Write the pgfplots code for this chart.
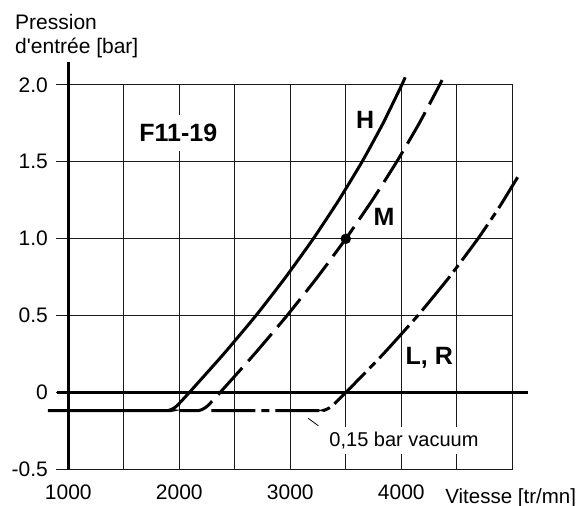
\documentclass[border=0pt]{standalone}
\usepackage{fontspec}
\setmainfont{Liberation Sans}
\usepackage{pgfplots}
\pgfplotsset{compat=1.18}
\begin{document}
\begin{tikzpicture}
\useasboundingbox (-68.3bp,-36.6bp) rectangle (516.7bp,469.4bp);
\begin{axis}[
  anchor=south west, at={(0,0)},
  scale only axis, width=444bp, height=384.4bp,
  xmin=1000, xmax=5000, ymin=-0.5, ymax=2.0,
  clip=false,
  xtick={1000,1500,...,5000},
  xticklabels={1000,,2000,,3000,,4000,,},
  ytick={-0.5,0,0.5,1,1.5,2},
  yticklabels={-0.5,0,0.5,1.0,1.5,2.0},
  grid=major,
  major grid style={black!90, line width=1bp},
  axis line style={black!90, line width=1bp},
  tick align=outside,
  ytick pos=left, xtick pos=bottom,
  major tick length=12bp,
  ytick style={black!90, line width=1bp},
  xtick style={draw=none},
  ticklabel style={font=\fontsize{21bp}{25bp}\selectfont},
  yticklabel style={xshift=-5bp},
]
% axis line and zero line
\draw[line width=2.8bp] (axis cs:1000,-0.5) -- (axis cs:1000,2.151);
\draw[line width=2.4bp] (axis cs:895,0) -- (axis cs:5138,0);

% H (solid)
\addplot[line width=3bp, smooth, tension=0.3] coordinates {
(817,-0.118) (1880,-0.118) (1909,-0.1153) (1938,-0.1071) (1967,-0.0935) (1995,-0.0744)
(2090,0) (2399,0.25) (2690,0.5) (2958,0.75) (3207,1.0) (3436,1.25) (3646,1.5)
(3835,1.75) (4004,2.0) (4035,2.05)};

% M (dashed)
\addplot[line width=3bp, smooth, tension=0.3, dash pattern=on 36bp off 9bp] coordinates {
(2000,-0.118) (2157,-0.118) (2186,-0.1153) (2215,-0.1071) (2244,-0.0935) (2272,-0.0744)
(2367,0) (2677,0.25) (2970,0.5) (3244,0.75) (3500,1.0) (3738,1.25) (3958,1.5)
(4161,1.75) (4345,2.0) (4367,2.032)};

% L, R (dash-dot)
\addplot[line width=3bp, smooth, tension=0.3, dash pattern=on 44bp off 6bp on 8bp off 6bp] coordinates {
(2290,-0.118) (3270,-0.118) (3302,-0.1153) (3334,-0.1071) (3365,-0.0935) (3396,-0.0744)
(3500,0) (3837,0.25) (4148,0.5) (4432,0.75) (4690,1.0) (4878,1.2) (5048,1.4)};

% operating point
\addplot[only marks, mark=*, mark size=5bp, black] coordinates {(3500,1.0)};

% labels
\node[font=\fontsize{25bp}{30bp}\selectfont\bfseries, fill=white, inner xsep=3bp, inner ysep=9bp, anchor=base] at (axis cs:1991,1.631) {F11-19};
\node[font=\fontsize{25bp}{30bp}\selectfont\bfseries, anchor=base] at (axis cs:3675,1.714) {H};
\node[font=\fontsize{25bp}{30bp}\selectfont\bfseries, anchor=base] at (axis cs:3844,1.086) {M};
\node[font=\fontsize{25bp}{30bp}\selectfont\bfseries, anchor=base west, inner sep=0pt] at (axis cs:4038,0.185) {L, R};

\draw[line width=0.8bp] (axis cs:3162,-0.168) -- (axis cs:3252,-0.216);
\node[font=\fontsize{20bp}{24bp}\selectfont, fill=white, inner sep=5bp, anchor=base] at (axis cs:4024,-0.353) {0,15 bar vacuum};

\node[font=\fontsize{20.5bp}{25bp}\selectfont, anchor=base west, inner sep=0pt] at (axis cs:4395,-0.7206) {Vitesse [tr/mn]};
\node[font=\fontsize{21bp}{25bp}\selectfont, anchor=base west, inner sep=0pt] at (axis cs:520,2.362) {Pression};
\node[font=\fontsize{21bp}{25bp}\selectfont, anchor=base west, inner sep=0pt] at (axis cs:520,2.206) {d\textquotesingle entrée [bar]};
\end{axis}
\end{tikzpicture}
\end{document}
